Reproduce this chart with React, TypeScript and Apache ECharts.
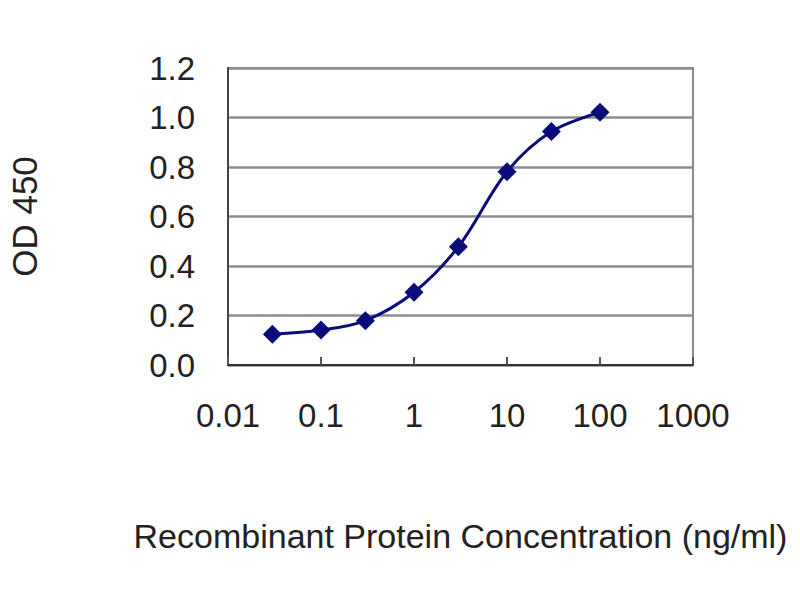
import React, { useEffect, useRef } from "react";
import * as echarts from "echarts";

const concentrations = [0.03, 0.1, 0.3, 1, 3, 10, 30, 100];
const odValues = [0.124, 0.141, 0.179, 0.294, 0.478, 0.781, 0.943, 1.021];
const xTickLabels = ["0.01", "0.1", "1", "10", "100", "1000"];
const yTitle = "OD 450";
const xTitle = "Recombinant Protein Concentration (ng/ml)";

const FONT = "'Liberation Sans', Arial, sans-serif";

export default function App() {
  const ref = useRef<HTMLDivElement>(null);
  useEffect(() => {
    if (!ref.current) return;
    const chart = echarts.init(ref.current, null, { renderer: "svg" });
    chart.setOption({
      animation: false,
      backgroundColor: "#ffffff",
      grid: {
        left: 228,
        right: 107,
        top: 68,
        bottom: 235,
        show: true,
        borderColor: "#8a8a8a",
        borderWidth: 2,
        containLabel: false,
        outerBoundsMode: "none",
      },
      xAxis: {
        type: "log",
        logBase: 10,
        min: 0.01,
        max: 1000,
        name: xTitle,
        nameLocation: "middle",
        nameGap: 154,
        nameTextStyle: { fontFamily: FONT, fontSize: 34, color: "#222" },
        axisLine: { show: true, lineStyle: { color: "#333", width: 2 } },
        axisTick: { show: true, inside: true, length: 8, lineStyle: { color: "#555", width: 2 } },
        axisLabel: {
          margin: 34,
          fontFamily: FONT,
          fontSize: 33,
          color: "#222",
          formatter: (v: number) => {
            const i = Math.round(Math.log10(v)) + 2;
            return xTickLabels[i] ?? "";
          },
        },
        splitLine: { show: false },
        minorTick: { show: false },
      },
      yAxis: {
        type: "value",
        min: 0,
        max: 1.2,
        interval: 0.2,
        name: yTitle,
        nameLocation: "middle",
        nameGap: 186,
        nameTextStyle: { fontFamily: FONT, fontSize: 35, color: "#222" },
        axisLine: { show: true, lineStyle: { color: "#444", width: 2 } },
        axisTick: { show: false },
        axisLabel: {
          margin: 33,
          fontFamily: FONT,
          fontSize: 33,
          color: "#222",
          formatter: (v: number) => v.toFixed(1),
        },
        splitLine: { show: true, lineStyle: { color: "#8c8c8c", width: 2.5 } },
      },
      series: [
        {
          type: "line",
          data: concentrations.map((c, i) => [c, odValues[i]]),
          smooth: 0.35,
          symbol: "diamond",
          symbolSize: 19,
          itemStyle: { color: "#0b0b7a" },
          lineStyle: { color: "#0b0b7a", width: 3 },
        },
      ],
    });
    return () => chart.dispose();
  }, []);
  return <div ref={ref} style={{ width: 800, height: 600, margin: -8 }} />;
}
